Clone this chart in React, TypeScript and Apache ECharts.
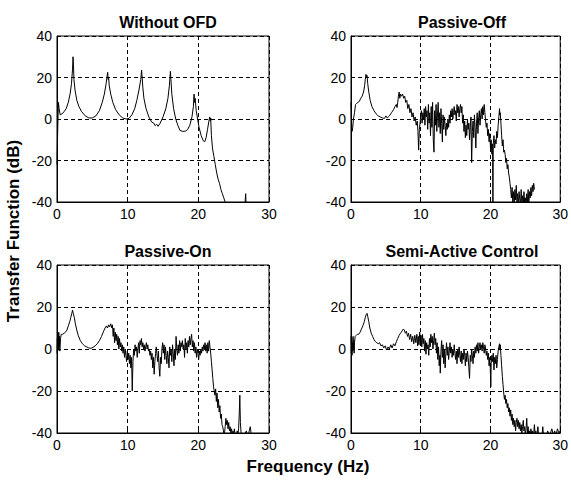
import React, { useEffect, useRef } from "react";
import * as echarts from "echarts";

type P = [number, number];

const panelTitles = ["Without OFD", "Passive-Off", "Passive-On", "Semi-Active Control"];
const xTicks = { min: 0, max: 30, interval: 10 };
const yTicks = { min: -40, max: 40, interval: 20 };

const withoutOFD: P[] = [
  [0, -22], [0.1, -5], [0.2, 8], [0.3, 5], [0.45, 2], [0.7, 2.5], [1.0, 3.5], [1.3, 5], [1.6, 8], [1.85, 12],
  [2.05, 17], [2.2, 24], [2.27, 30], [2.33, 26], [2.4, 19], [2.55, 14], [2.8, 9], [3.1, 6], [3.5, 3.5], [4.0, 1.5],
  [4.5, 0.5], [5.0, 0.5], [5.5, 1.5], [6.0, 4], [6.4, 8], [6.7, 12], [6.95, 17], [7.1, 21], [7.17, 22.5], [7.25, 19],
  [7.3, 20], [7.4, 16], [7.6, 12], [7.9, 8], [8.3, 4.5], [8.8, 2], [9.3, 0.5], [9.8, 0], [10.2, 0.3], [10.6, 2],
  [11.0, 5], [11.3, 9], [11.6, 14], [11.85, 19], [11.97, 23.5], [12.05, 20], [12.15, 15], [12.3, 10], [12.6, 5], [13.0, 1],
  [13.4, -1.5], [13.7, -2], [13.9, -3.2], [14.1, -2.5], [14.3, -3.5], [14.6, -2], [15.0, 1], [15.4, 5], [15.7, 10], [15.9, 16],
  [16.05, 23], [16.12, 19], [16.25, 12], [16.5, 5], [16.8, 0], [17.1, -3], [17.4, -5.5], [17.8, -6], [18.2, -5.8], [18.5, -5],
  [18.8, -3], [19.1, 1], [19.3, 6], [19.4, 12], [19.45, 8], [19.55, 10], [19.7, 4], [19.9, 0], [20.1, -4], [20.4, -8],
  [20.7, -10.5], [20.9, -11], [21.1, -9], [21.3, -5], [21.5, -1], [21.6, 1], [21.7, -1], [21.75, 0.5], [21.85, -8], [22.0, -14],
  [22.2, -18], [22.4, -22], [22.6, -26], [22.8, -29], [23.0, -31], [23.2, -34], [23.4, -36], [23.6, -38], [23.8, -40], [24.0, -42],
  [24.5, -44], [26.5, -43], [26.6, -41], [26.7, -36], [26.75, -41], [26.9, -44], [28, -45], [30, -45],
];

const passiveOff: P[] = [
  [0, 8], [0.08, -2], [0.15, -6], [0.25, -4], [0.35, 0], [0.5, 3], [0.65, 7], [0.8, 7.5], [1.0, 8], [1.2, 8.5],
  [1.4, 10], [1.6, 11], [1.8, 13], [1.95, 16], [2.05, 19], [2.15, 21.5], [2.22, 20], [2.3, 21], [2.4, 17], [2.55, 13],
  [2.75, 9], [3.0, 6], [3.3, 4], [3.6, 2.5], [3.9, 1.5], [4.2, 1], [4.5, 0.5], [4.8, 0.3], [5.0, 1.5], [5.2, 0.5],
  [5.5, 1.5], [5.8, 3], [6.1, 4.5], [6.3, 6], [6.5, 7], [6.6, 5.5], [6.7, 8], [6.8, 11], [6.9, 13], [7.0, 10],
  [7.1, 12], [7.25, 11], [7.4, 12], [7.55, 10], [7.7, 11], [7.85, 8], [8.0, 9], [8.15, 5], [8.3, 7], [8.45, 3],
  [8.6, 5], [8.75, 1], [8.9, 3], [9.05, -1], [9.2, 1], [9.35, -3], [9.5, -1], [9.6, -6], [9.7, -15], [9.8, -5],
  [9.9, -2], [10.0, 2], [10.1, 4], [10.2, -2], [10.3, 3], [10.4, 0], [10.5, 5], [10.6, -3], [10.7, 6], [10.8, 1],
  [10.9, 4], [11.0, -5], [11.1, 7], [11.2, -2], [11.3, 3], [11.4, -8], [11.5, 6], [11.6, -4], [11.7, 8], [11.8, -10],
  [11.9, -16], [12.0, 4], [12.1, -3], [12.2, 7], [12.3, -6], [12.4, 2], [12.5, 8], [12.6, -4], [12.7, 3], [12.8, -7],
  [12.9, 5], [13.0, -2], [13.1, -11], [13.2, 2], [13.3, -5], [13.4, 1], [13.5, -3], [13.6, -8], [13.7, -2], [13.8, -5],
  [13.9, 0], [14.0, -4], [14.1, 2], [14.2, -2], [14.3, 4], [14.4, 1], [14.5, 5], [14.6, 0], [14.7, 3], [14.8, 6],
  [14.9, 2], [15.0, 4], [15.1, -1], [15.2, 7], [15.3, 3], [15.4, 6], [15.5, 1], [15.6, 5], [15.7, 7], [15.8, 3],
  [15.9, 6], [16.0, -2], [16.1, 2], [16.2, -6], [16.3, -1], [16.4, -9], [16.5, -3], [16.6, -8], [16.7, 0], [16.8, -5],
  [16.9, -2], [17.0, -10], [17.1, -4], [17.2, 1], [17.3, -21], [17.4, -6], [17.5, -1], [17.6, -9], [17.7, 2], [17.8, -4],
  [17.9, -14], [18.0, -2], [18.1, 3], [18.2, -7], [18.3, 0], [18.4, 4], [18.5, -3], [18.6, 2], [18.7, 5], [18.8, 0],
  [18.9, 6], [19.0, 2], [19.1, 7], [19.2, 3], [19.3, -1], [19.4, -4], [19.5, -2], [19.6, -8], [19.7, -5], [19.8, -11],
  [19.9, -7], [20.0, -14], [20.1, -10], [20.2, -17], [20.3, -12], [20.35, -42], [20.4, -12], [20.5, -8], [20.6, -14], [20.7, -10],
  [20.8, -12], [20.9, -6], [21.0, -9], [21.1, -3], [21.2, 1], [21.3, 5], [21.35, 2], [21.4, 3], [21.5, -2], [21.6, -8],
  [21.7, -13], [21.8, -10], [21.9, -16], [22.0, -15], [22.1, -17], [22.2, -21], [22.3, -19], [22.4, -24], [22.5, -22], [22.6, -26],
  [22.7, -28], [22.8, -31], [22.9, -34], [23.0, -38], [23.1, -33], [23.2, -40], [23.3, -35], [23.4, -41], [23.5, -34], [23.6, -39],
  [23.7, -32], [23.8, -40], [23.9, -36], [24.0, -42], [24.1, -35], [24.2, -39], [24.3, -41], [24.4, -34], [24.5, -40], [24.6, -37],
  [24.7, -42], [24.8, -35], [24.9, -40], [25.0, -38], [25.1, -42], [25.2, -36], [25.3, -40], [25.4, -34], [25.5, -41], [25.6, -35],
  [25.7, -38], [25.8, -33], [25.9, -37], [26.0, -32], [26.1, -35], [26.2, -31], [26.3, -34],
];

const passiveOn: P[] = [
  [0, -2], [0.05, 5], [0.1, -1], [0.15, 7], [0.2, 0], [0.25, 8], [0.3, 1], [0.35, 6], [0.4, -1], [0.5, 5],
  [0.6, 7], [0.8, 7], [1.0, 7.5], [1.2, 8], [1.4, 9], [1.6, 11], [1.8, 13], [1.95, 15], [2.1, 17], [2.2, 18.5],
  [2.3, 17], [2.45, 15], [2.6, 12], [2.8, 9], [3.0, 6.5], [3.3, 4], [3.6, 2.5], [3.9, 1.5], [4.2, 1], [4.5, 0.5],
  [4.8, 0.3], [5.1, 0.8], [5.4, 1.5], [5.7, 2.5], [6.0, 4], [6.3, 6], [6.6, 8.5], [6.8, 10], [7.0, 11], [7.15, 10],
  [7.3, 11.5], [7.45, 10.5], [7.6, 12], [7.75, 10], [7.85, 11.5], [7.95, 6], [8.05, 10], [8.15, 3], [8.25, 8], [8.35, 4],
  [8.45, 7], [8.55, 2], [8.65, 6], [8.75, 0], [8.85, 5], [8.95, 1], [9.05, 3], [9.15, -1], [9.25, 2], [9.35, -2],
  [9.45, 1], [9.55, -4], [9.65, 0], [9.75, -3], [9.85, -6], [9.95, -1], [10.05, -5], [10.15, -2], [10.25, -7], [10.35, -3],
  [10.45, -9], [10.55, -4], [10.65, -20], [10.75, -6], [10.85, 0], [10.95, -3], [11.05, 2], [11.15, -1], [11.25, 1], [11.35, -4],
  [11.45, 0], [11.55, 3], [11.65, -2], [11.75, 4], [11.85, 2], [11.95, 5], [12.05, 1], [12.15, 3], [12.25, 0], [12.35, 2],
  [12.45, -1], [12.55, 1], [12.65, 3], [12.75, 0], [12.85, 2], [12.95, -1], [13.05, 0], [13.15, -3], [13.25, -1], [13.35, -5],
  [13.45, -2], [13.55, -9], [13.65, -4], [13.75, -12], [13.85, -6], [13.95, -2], [14.05, 1], [14.15, -3], [14.25, -6], [14.35, -1],
  [14.45, -9], [14.55, -13], [14.65, -4], [14.75, -7], [14.85, 0], [14.95, 3], [15.05, -2], [15.15, 2], [15.25, -5], [15.35, 1],
  [15.45, -3], [15.55, -7], [15.65, -1], [15.75, -4], [15.85, -9], [15.95, 1], [16.05, -3], [16.15, 0], [16.25, -6], [16.35, 2],
  [16.45, -2], [16.55, -8], [16.65, 0], [16.75, -5], [16.85, 6], [16.95, 0], [17.05, -3], [17.15, 2], [17.25, -2], [17.35, 4],
  [17.45, -1], [17.55, 3], [17.65, 1], [17.75, 4], [17.85, 0], [17.95, 2], [18.05, -4], [18.15, 5], [18.25, 0], [18.35, 3],
  [18.45, -2], [18.55, 4], [18.65, 1], [18.75, 6], [18.85, 2], [18.95, 5], [19.05, 7], [19.15, 1], [19.25, 4], [19.35, -1],
  [19.45, 3], [19.55, -2], [19.65, 1], [19.75, -4], [19.85, 0], [19.95, -2], [20.05, -5], [20.15, -1], [20.25, -3], [20.35, 0],
  [20.45, -2], [20.55, 1], [20.65, -1], [20.75, 2], [20.85, 0], [20.95, 3], [21.05, -1], [21.15, 2], [21.25, -2], [21.35, 3],
  [21.45, -1], [21.55, 4], [21.65, 1], [21.75, -2], [21.85, -6], [21.95, -10], [22.05, -14], [22.15, -18], [22.25, -20], [22.35, -22],
  [22.45, -19], [22.55, -25], [22.65, -21], [22.75, -28], [22.85, -24], [22.95, -30], [23.05, -27], [23.15, -33], [23.25, -31], [23.35, -36],
  [23.45, -37], [23.55, -39], [23.65, -42], [23.8, -37], [23.9, -33], [24.0, -36], [24.1, -34], [24.2, -38], [24.3, -35], [24.4, -39],
  [24.5, -37], [24.6, -40], [24.7, -38], [24.8, -41], [24.9, -39], [25.0, -42], [25.1, -38], [25.2, -41], [25.3, -40], [25.4, -42],
  [25.5, -39], [25.6, -41], [25.7, -38], [25.8, -30], [25.87, -22], [25.95, -35], [26.05, -40], [26.2, -42], [26.5, -41], [26.8, -39],
  [27.0, -42], [27.2, -39], [27.35, -37], [27.5, -41], [27.6, -43],
];

const semiActive: P[] = [
  [0, 6], [0.05, -2], [0.1, 5], [0.15, -3], [0.2, 3], [0.25, -1], [0.3, 6], [0.35, 0], [0.4, 4], [0.45, -2],
  [0.5, 3], [0.6, 6], [0.75, 6.5], [0.9, 7], [1.1, 7], [1.3, 8], [1.5, 9.5], [1.7, 11], [1.9, 13], [2.05, 15],
  [2.2, 16.5], [2.3, 17], [2.4, 15.5], [2.55, 13], [2.7, 10], [2.9, 7.5], [3.1, 6], [3.3, 4.5], [3.5, 3.5], [3.7, 3],
  [3.9, 2.5], [4.1, 3], [4.3, 1.5], [4.5, 2], [4.7, 0.5], [4.9, 1.5], [5.1, -0.5], [5.3, 1], [5.5, 0], [5.7, 2],
  [5.9, 0.5], [6.1, 2.5], [6.3, 1.5], [6.5, 3.5], [6.7, 5], [6.9, 6.5], [7.1, 7.5], [7.3, 8.5], [7.5, 9.5], [7.65, 9],
  [7.8, 7.5], [7.95, 8.5], [8.1, 6], [8.25, 7.5], [8.4, 4.5], [8.55, 7], [8.7, 3.5], [8.85, 6], [9.0, 2.5], [9.15, 6.5],
  [9.3, 3], [9.45, 7], [9.55, 1.5], [9.65, 6], [9.75, 2], [9.85, 8], [9.95, 3], [10.05, 6.5], [10.15, 1], [10.25, 7],
  [10.35, 2.5], [10.45, 5], [10.55, -1], [10.65, 4], [10.75, -2.5], [10.85, 3], [10.95, 0], [11.05, 2], [11.15, -3], [11.25, 5],
  [11.35, 1], [11.45, 7], [11.55, 3], [11.65, 6], [11.75, 0], [11.85, 4], [11.95, 7.5], [12.05, 2], [12.15, 5], [12.25, -2],
  [12.35, 3], [12.45, -5], [12.55, 1], [12.65, -8], [12.75, -3], [12.8, -11.5], [12.9, -1], [13.0, 4], [13.1, -4], [13.2, 2],
  [13.3, -7], [13.4, 0], [13.5, -9], [13.6, -2], [13.7, 3], [13.8, -3], [13.9, 1], [14.0, -5], [14.1, -1], [14.2, 3],
  [14.3, -2], [14.4, 1], [14.5, -4], [14.6, 0], [14.7, -3], [14.8, 2], [14.9, -2], [15.0, -5], [15.1, -1], [15.2, -7],
  [15.3, 0], [15.4, -4], [15.5, 1], [15.6, -3], [15.7, -6], [15.8, -1], [15.9, -7], [16.0, -2], [16.1, -5], [16.2, 0],
  [16.3, -3], [16.4, -8], [16.5, -2], [16.6, -6], [16.7, -1], [16.8, -4], [16.9, -9], [17.0, -14], [17.1, -3], [17.2, -6],
  [17.3, 0], [17.4, -3], [17.5, -7], [17.6, -1], [17.7, -4], [17.8, 1], [17.9, -2], [18.0, 2], [18.1, -1], [18.2, 3],
  [18.3, -2], [18.4, 1], [18.5, 3], [18.6, 0], [18.7, 2], [18.8, -1], [18.9, 3], [19.0, 1], [19.1, -2], [19.2, 2],
  [19.3, 0], [19.4, -3], [19.5, -1], [19.6, -5], [19.7, -2], [19.8, -8], [19.9, -4], [20.0, -12], [20.05, -18], [20.1, -7],
  [20.2, -3], [20.3, -6], [20.4, -2], [20.5, -10], [20.6, -4], [20.7, -7], [20.8, -3], [20.9, -9], [21.0, -5], [21.1, -1],
  [21.2, 1], [21.3, 2.5], [21.35, 0], [21.4, 2], [21.5, -3], [21.6, -8], [21.7, -13], [21.8, -17], [21.9, -21], [22.0, -24],
  [22.1, -22], [22.2, -26], [22.3, -24], [22.4, -28], [22.5, -26], [22.6, -30], [22.7, -28], [22.8, -32], [22.9, -29], [23.0, -34],
  [23.1, -31], [23.2, -36], [23.3, -33], [23.4, -37], [23.5, -34], [23.6, -39], [23.7, -35], [23.8, -33], [23.9, -37], [24.0, -34],
  [24.1, -38], [24.2, -35], [24.3, -39], [24.4, -36], [24.5, -40], [24.6, -37], [24.7, -34], [24.8, -39], [24.9, -37], [25.0, -41],
  [25.1, -38], [25.2, -33], [25.3, -40], [25.4, -37], [25.5, -42], [25.6, -39], [25.7, -41], [25.8, -38], [25.9, -41], [26.0, -39],
  [26.1, -42], [26.2, -40], [26.3, -36], [26.4, -41], [26.5, -39], [26.6, -42], [26.7, -40], [26.8, -37], [26.9, -41], [27.0, -42],
  [27.2, -40], [27.4, -41], [27.5, -37], [27.6, -41], [27.8, -40], [28.0, -42], [28.2, -39], [28.4, -41], [28.6, -40], [28.8, -38],
  [29.0, -41], [29.2, -39], [29.4, -41], [29.6, -38], [29.8, -40], [30.0, -39],
];

const seriesData = [withoutOFD, passiveOff, passiveOn, semiActive];

const FONT = "'Liberation Sans', Arial, sans-serif";

export default function App() {
  const ref = useRef<HTMLDivElement>(null);
  useEffect(() => {
    if (!ref.current) return;
    const chart = echarts.init(ref.current, null, { renderer: "svg" });
    const grids = [
      { left: 57, top: 36, width: 212, height: 166 },
      { left: 351, top: 36, width: 212, height: 166 },
      { left: 57, top: 265, width: 212, height: 168 },
      { left: 351, top: 265, width: 212, height: 168 },
    ];
    const dashed = { color: "#000", width: 1, type: [4, 3] as number[] };
    chart.setOption({
      animation: false,
      backgroundColor: "#fff",
      title: grids.map((g, i) => ({
        text: panelTitles[i],
        left: g.left + g.width / 2,
        top: g.top - 27,
        textAlign: "center",
        textStyle: { fontFamily: FONT, fontSize: 16, fontWeight: "bold", color: "#000" },
      })),
      grid: grids.map((g) => ({ ...g, show: true, borderColor: "#000", borderWidth: 1, backgroundColor: "#fff" })),
      xAxis: grids.map((_, i) => ({
        type: "value",
        gridIndex: i,
        min: xTicks.min,
        max: xTicks.max,
        interval: xTicks.interval,
        axisLine: { show: true, onZero: false, lineStyle: { color: "#000", width: 1 } },
        axisTick: { show: true, inside: true, length: 4, lineStyle: { color: "#000" } },
        axisLabel: { color: "#000", fontFamily: FONT, fontSize: 14, margin: 5 },
        splitLine: { show: true, lineStyle: dashed },
      })),
      yAxis: grids.map((_, i) => ({
        type: "value",
        gridIndex: i,
        min: yTicks.min,
        max: yTicks.max,
        interval: yTicks.interval,
        axisLine: { show: true, onZero: false, lineStyle: { color: "#000", width: 1 } },
        axisTick: { show: true, inside: true, length: 4, lineStyle: { color: "#000" } },
        axisLabel: { color: "#000", fontFamily: FONT, fontSize: 14, margin: 5 },
        splitLine: { show: true, lineStyle: dashed },
      })),
      series: seriesData.map((d, i) => ({
        type: "line",
        xAxisIndex: i,
        yAxisIndex: i,
        data: d,
        showSymbol: false,
        symbol: "none",
        clip: true,
        lineStyle: { color: "#000", width: 1 },
      })),
      graphic: [
        {
          type: "text",
          x: 13,
          y: 231,
          rotation: Math.PI / 2,
          style: {
            text: "Transfer Function (dB)",
            fontFamily: FONT,
            fontSize: 17,
            fontWeight: "bold",
            fill: "#000",
            textAlign: "center",
            textVerticalAlign: "middle",
          },
        },
        {
          type: "text",
          x: 308,
          y: 466,
          style: {
            text: "Frequency (Hz)",
            fontFamily: FONT,
            fontSize: 17,
            fontWeight: "bold",
            fill: "#000",
            textAlign: "center",
            textVerticalAlign: "middle",
          },
        },
      ],
    });
    return () => chart.dispose();
  }, []);
  return (
    <div
      ref={ref}
      style={{ position: "fixed", left: 0, top: 0, width: 571, height: 481, background: "#fff" }}
    />
  );
}
